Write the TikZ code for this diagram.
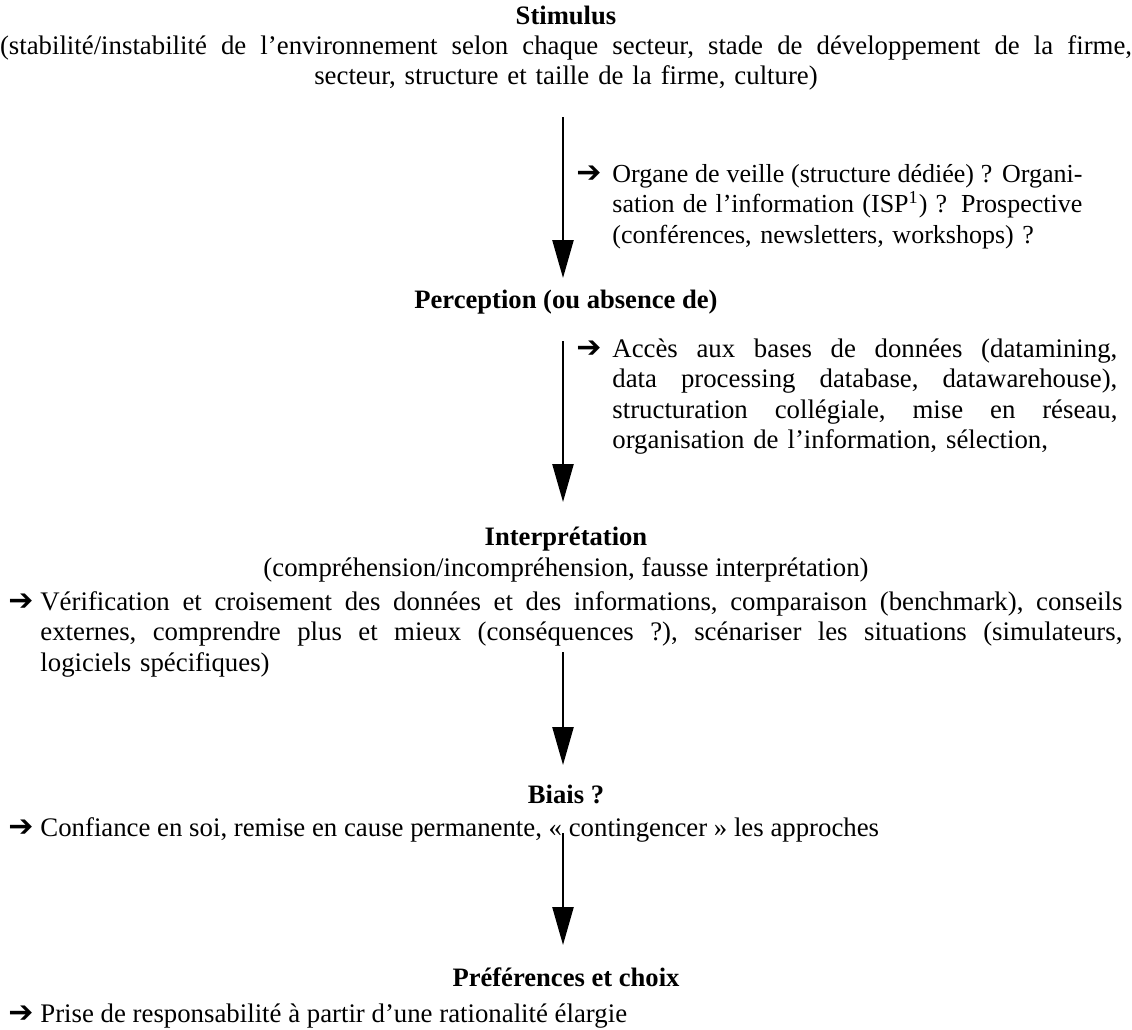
\documentclass[tikz,border=0pt]{standalone}
\usepackage{fontspec}
\setmainfont{Liberation Serif}
\newfontfamily\symfont{DejaVu Sans}
\usetikzlibrary{arrows.meta}

% one justified line, spread to the full width of the node text
\newcommand\fullline[1]{{\spaceskip=0pt\xspaceskip=0pt\makebox[\hsize][s]{#1}}}

\begin{document}
\begin{tikzpicture}[x=0.5pt,y=-0.5pt,
  heading/.style={font=\fontsize{13.3}{15.3}\selectfont\bfseries, anchor=base, inner sep=0pt},
  body/.style={font=\fontsize{13.4}{15.3}\selectfont\frenchspacing, inner sep=0pt},
  para/.style={body, align=left, anchor=base west},
  pointer/.style={font=\symfont\bfseries\fontsize{15}{17}\selectfont, anchor=base west, inner sep=0pt},
  flow/.style={line width=1.2pt, -{Triangle[length=19pt,width=10.5pt]}}]
\useasboundingbox (0,0) rectangle (1132,1030);

% Stages of the process
\node[heading] (stim) at (566,24) {Stimulus};
\node[body, text width=566pt, align=center, anchor=base] (stimdesc) at (566,54)
  {\fullline{(stabilité/instabilité de l’environnement selon chaque secteur, stade de développement de la firme,}\\
   secteur, structure et taille de la firme, culture)};

\node[heading] (perc) at (566,308) {Perception (ou absence de)};
\node[heading] (interp) at (566,545) {Interprétation};
\node[body, anchor=base] (interpdesc) at (566,576)
  {(compréhension/incompréhension, fausse interprétation)};
\node[heading] (biais) at (566,803) {Biais ?};
\node[heading] (pref) at (566,986) {Préférences et choix};

% Remedies attached to each stage
\node[pointer] (p1) at (576,182) {➔};
\node[para, text width=235pt, font=\fontsize{13}{15.3}\selectfont] (veille) at (612,182)
  {\fullline{Organe de veille (structure dédiée)~? Organi-}\\
   \fullline{sation de l’information (ISP\textsuperscript{1})~? Prospective}\\
   (conférences, newsletters, workshops)~?};

\node[pointer] (p2) at (576,357) {➔};
\node[para, text width=252.5pt] (donnees) at (612,357)
  {\fullline{Accès aux bases de données (datamining,}\\
   \fullline{data processing database, datawarehouse),}\\
   \fullline{structuration collégiale, mise en réseau,}\\
   organisation de l’information, sélection,};

\node[pointer] (p3) at (8,610) {➔};
\node[para, text width=541pt] (verif) at (40,610)
  {\fullline{Vérification et croisement des données et des informations, comparaison (benchmark), conseils}\\
   \fullline{externes, comprendre plus et mieux (conséquences~?), scénariser les situations (simulateurs,}\\
   logiciels spécifiques)};

\node[pointer] (p4) at (8,836) {➔};
\node[body, anchor=base west] (confiance) at (40,836)
  {Confiance en soi, remise en cause permanente, «~contingencer~» les approches};

\node[pointer] (p5) at (8,1022) {➔};
\node[body, anchor=base west] (prise) at (40,1022)
  {Prise de responsabilité à partir d’une rationalité élargie};

% Vertical flow arrows
\coordinate (a1s) at (563,117);
\coordinate (a1e) at (563,278);
\coordinate (a2s) at (563,341);
\coordinate (a2e) at (563,502);
\coordinate (a3s) at (563,652);
\coordinate (a3e) at (563,765);
\coordinate (a4s) at (563,833);
\coordinate (a4e) at (563,945);
\draw[flow] (a1s) -- (a1e);
\draw[flow] (a2s) -- (a2e);
\draw[flow] (a3s) -- (a3e);
\draw[flow] (a4s) -- (a4e);
\end{tikzpicture}
\end{document}
